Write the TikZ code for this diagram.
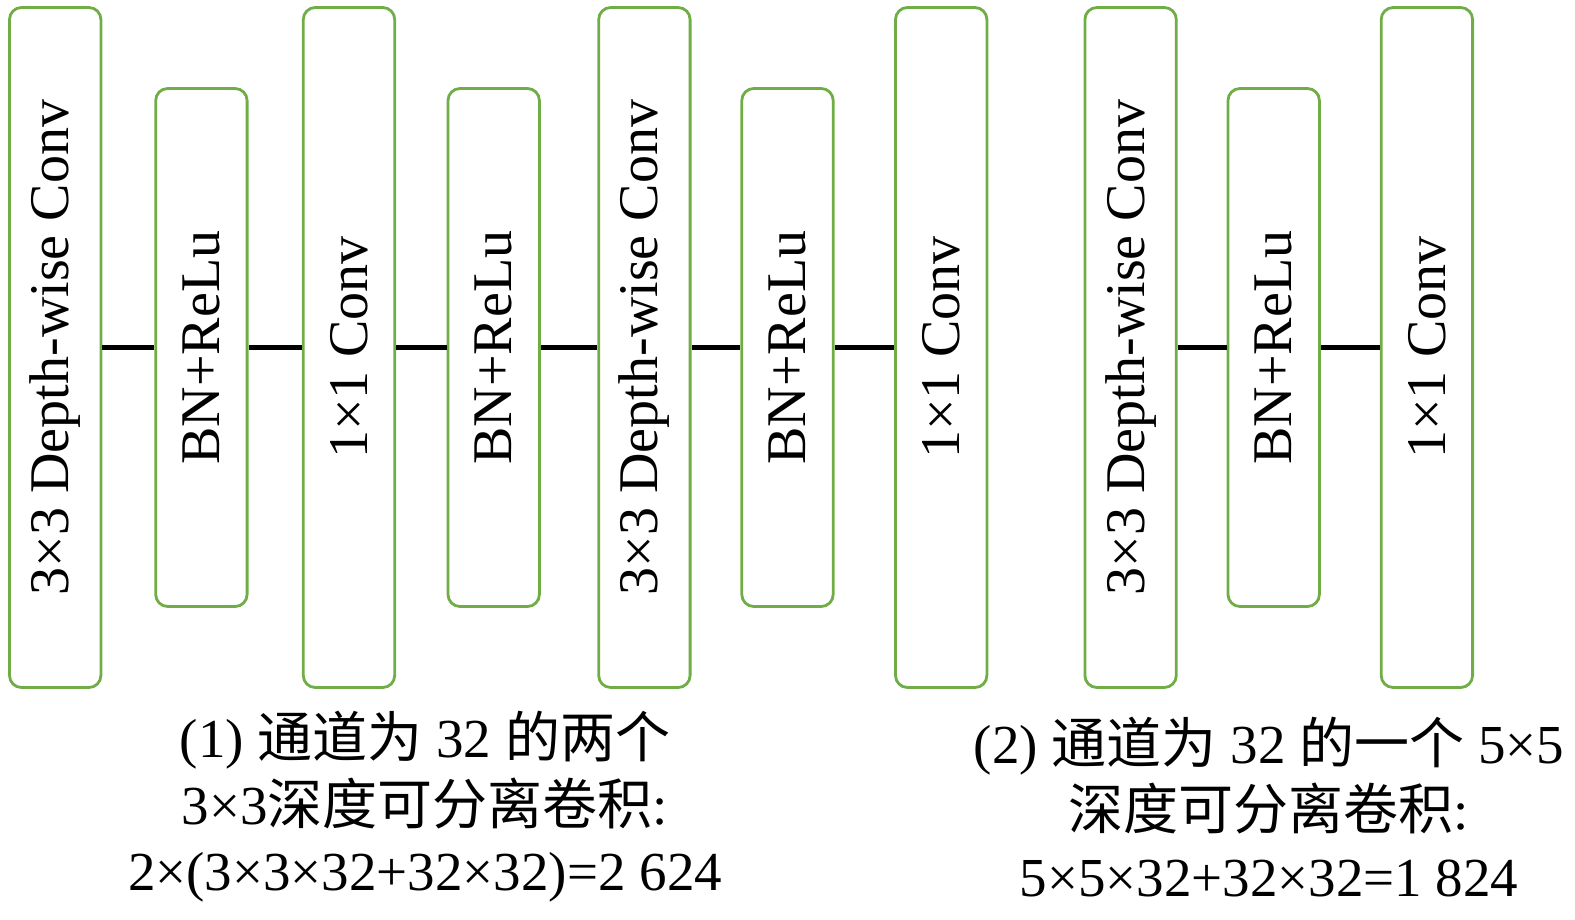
\documentclass[tikz,border=0pt]{standalone}
\usepackage{fontspec}
\setmainfont{Liberation Serif}
\newfontfamily\cjk{Noto Sans CJK SC}
\newcommand{\zh}[1]{{\cjk #1}}
\definecolor{boxgreen}{RGB}{112,173,71}
\begin{document}
\begin{tikzpicture}[x=1pt,y=-1pt,
  blk/.style={draw=boxgreen, line width=2.8pt, rounded corners=12pt, fill=white,
    rotate=90, minimum height=91.4pt, inner sep=0pt, font=\fontsize{56}{60}\selectfont},
  tallbox/.style={blk, minimum width=680pt},
  shortbox/.style={blk, minimum width=518pt},
  link/.style={line width=4.8pt, black},
  captext/.style={align=center, font=\fontsize{55}{66.5}\selectfont, inner sep=0pt}]
\useasboundingbox (0,0) rectangle (1575,919);
\node[tallbox]  (b1)  at (55.2,347.5)  {3×3 Depth-wise Conv};
\node[shortbox] (b2)  at (201.4,347.5) {BN+ReLu};
\node[tallbox]  (b3)  at (349,347.5)   {1×1 Conv};
\node[shortbox] (b4)  at (493.7,347.5) {BN+ReLu};
\node[tallbox]  (b5)  at (644.4,347.5) {3×3 Depth-wise Conv};
\node[shortbox] (b6)  at (787.5,347.5) {BN+ReLu};
\node[tallbox]  (b7)  at (941.2,347.5) {1×1 Conv};
\node[tallbox]  (b8)  at (1130.6,347.5) {3×3 Depth-wise Conv};
\node[shortbox] (b9)  at (1273.7,347.5) {BN+ReLu};
\node[tallbox]  (b10) at (1426.9,347.5) {1×1 Conv};
\draw[link] (b1.south) -- (b2.north);
\draw[link] (b2.south) -- (b3.north);
\draw[link] (b3.south) -- (b4.north);
\draw[link] (b4.south) -- (b5.north);
\draw[link] (b5.south) -- (b6.north);
\draw[link] (b6.south) -- (b7.north);
\draw[link] (b8.south) -- (b9.north);
\draw[link] (b9.south) -- (b10.north);
\node[captext] (c1) at (425,807) {(1) \zh{通道为} 32 \zh{的两个}\\3×3\zh{深度可分离卷积}:\\2×(3×3×32+32×32)=2 624};
\node[captext] (c2) at (1269,807) {(2) \zh{通道为} 32 \zh{的一个} 5×5\\\zh{深度可分离卷积}:\\5×5×32+32×32=1 824};
\end{tikzpicture}
\end{document}
